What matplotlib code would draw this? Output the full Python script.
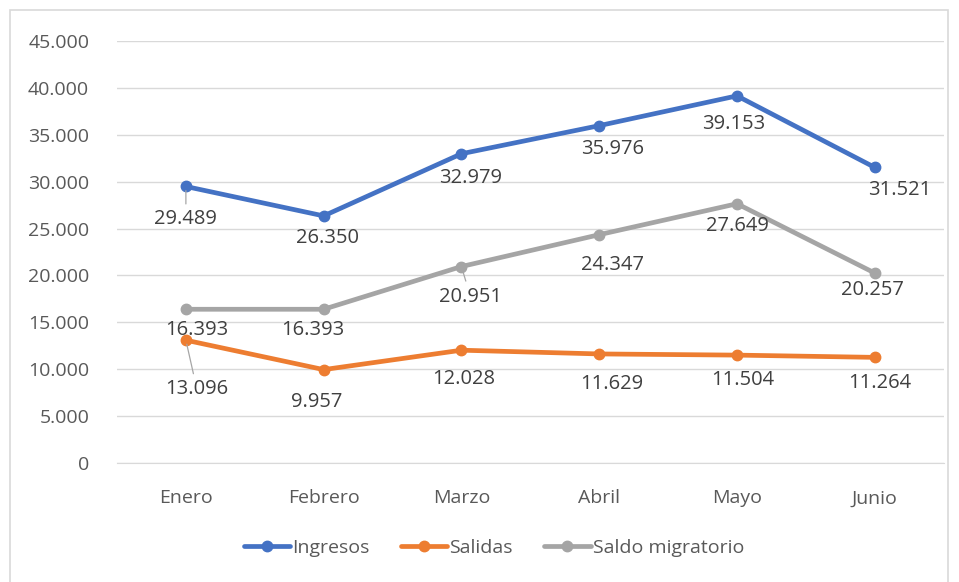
import matplotlib.pyplot as plt
from matplotlib.patches import Rectangle

# Data
meses = ["Enero", "Febrero", "Marzo", "Abril", "Mayo", "Junio"]
ingresos = [29489, 26350, 32979, 35976, 39153, 31521]
salidas = [13096, 9957, 12028, 11629, 11504, 11264]
saldo = [16393, 16393, 20951, 24347, 27649, 20257]
yticks = [0, 5000, 10000, 15000, 20000, 25000, 30000, 35000, 40000, 45000]

# label offsets in pixels (dx, dy), Excel-style manual placement
off_ingresos = [(0, -33), (4, -22), (9, -24), (13, -23), (-3, -28), (25, -23)]
off_salidas = [(11, -49), (-7, -32), (2, -29), (13, -30), (6, -25), (5, -26)]
off_saldo = [(11, -21), (-11, -21), (9, -30), (13, -30), (0, -22), (-2, -17)]
# which labels get a leader line
lead_ingresos = [True, False, False, False, False, False]
lead_salidas = [True, False, False, False, False, False]
lead_saldo = [False, False, True, False, False, False]


def fmt(v):
    return f"{v:,}".replace(",", ".")


plt.rcParams['font.family'] = ['Open Sans', 'DejaVu Sans']

fig = plt.figure(figsize=(9.59, 5.82), dpi=100)
fig.patches.append(Rectangle((10 / 959, -0.01), 938 / 959, 1 - 10 / 582 + 0.01,
                             transform=fig.transFigure, fill=False,
                             edgecolor="#d9d9d9", lw=1.2))

ax = fig.add_axes([0.122, 0.2045, 0.862, 0.725])
x = list(range(len(meses)))

series = [
    ("Ingresos", ingresos, "#4472C4", off_ingresos, lead_ingresos),
    ("Salidas", salidas, "#ED7D31", off_salidas, lead_salidas),
    ("Saldo migratorio", saldo, "#A5A5A5", off_saldo, lead_saldo),
]

for name, vals, col, offs, leads in series:
    ax.plot(x, vals, color=col, lw=3.4, marker="o", ms=7.5, label=name,
            solid_capstyle="round", zorder=3)

for name, vals, col, offs, leads in series:
    for i, v in enumerate(vals):
        dx, dy = offs[i]
        ax.annotate(fmt(v), (i, v), xytext=(dx, dy), textcoords="offset pixels",
                    ha="center", va="center", fontsize=14.5, color="#404040",
                    zorder=4,
                    arrowprops=dict(arrowstyle="-", color="#a6a6a6", lw=0.9,
                                    shrinkA=2, shrinkB=3) if leads[i] else None)

ax.set_xlim(-0.5, len(meses) - 0.5)
ax.set_ylim(0, 45000)
ax.set_yticks(yticks)
ax.set_yticklabels([fmt(t) for t in yticks])
ax.set_xticks(x)
ax.set_xticklabels(meses)
ax.yaxis.grid(True, color="#d9d9d9", lw=1)
ax.set_axisbelow(True)
for s in ["top", "right", "left"]:
    ax.spines[s].set_visible(False)
ax.spines["bottom"].set_color("#d9d9d9")
ax.tick_params(axis="both", length=0, labelsize=14, colors="#595959")
ax.tick_params(axis="x", pad=19)
ax.tick_params(axis="y", pad=20)

fig.legend(loc="center", bbox_to_anchor=(0.515, 0.058), ncol=3, frameon=False,
           fontsize=14, labelcolor="#595959", handlelength=2.4,
           handletextpad=0.1, columnspacing=1.6)

fig.savefig("out.png", dpi=100)
